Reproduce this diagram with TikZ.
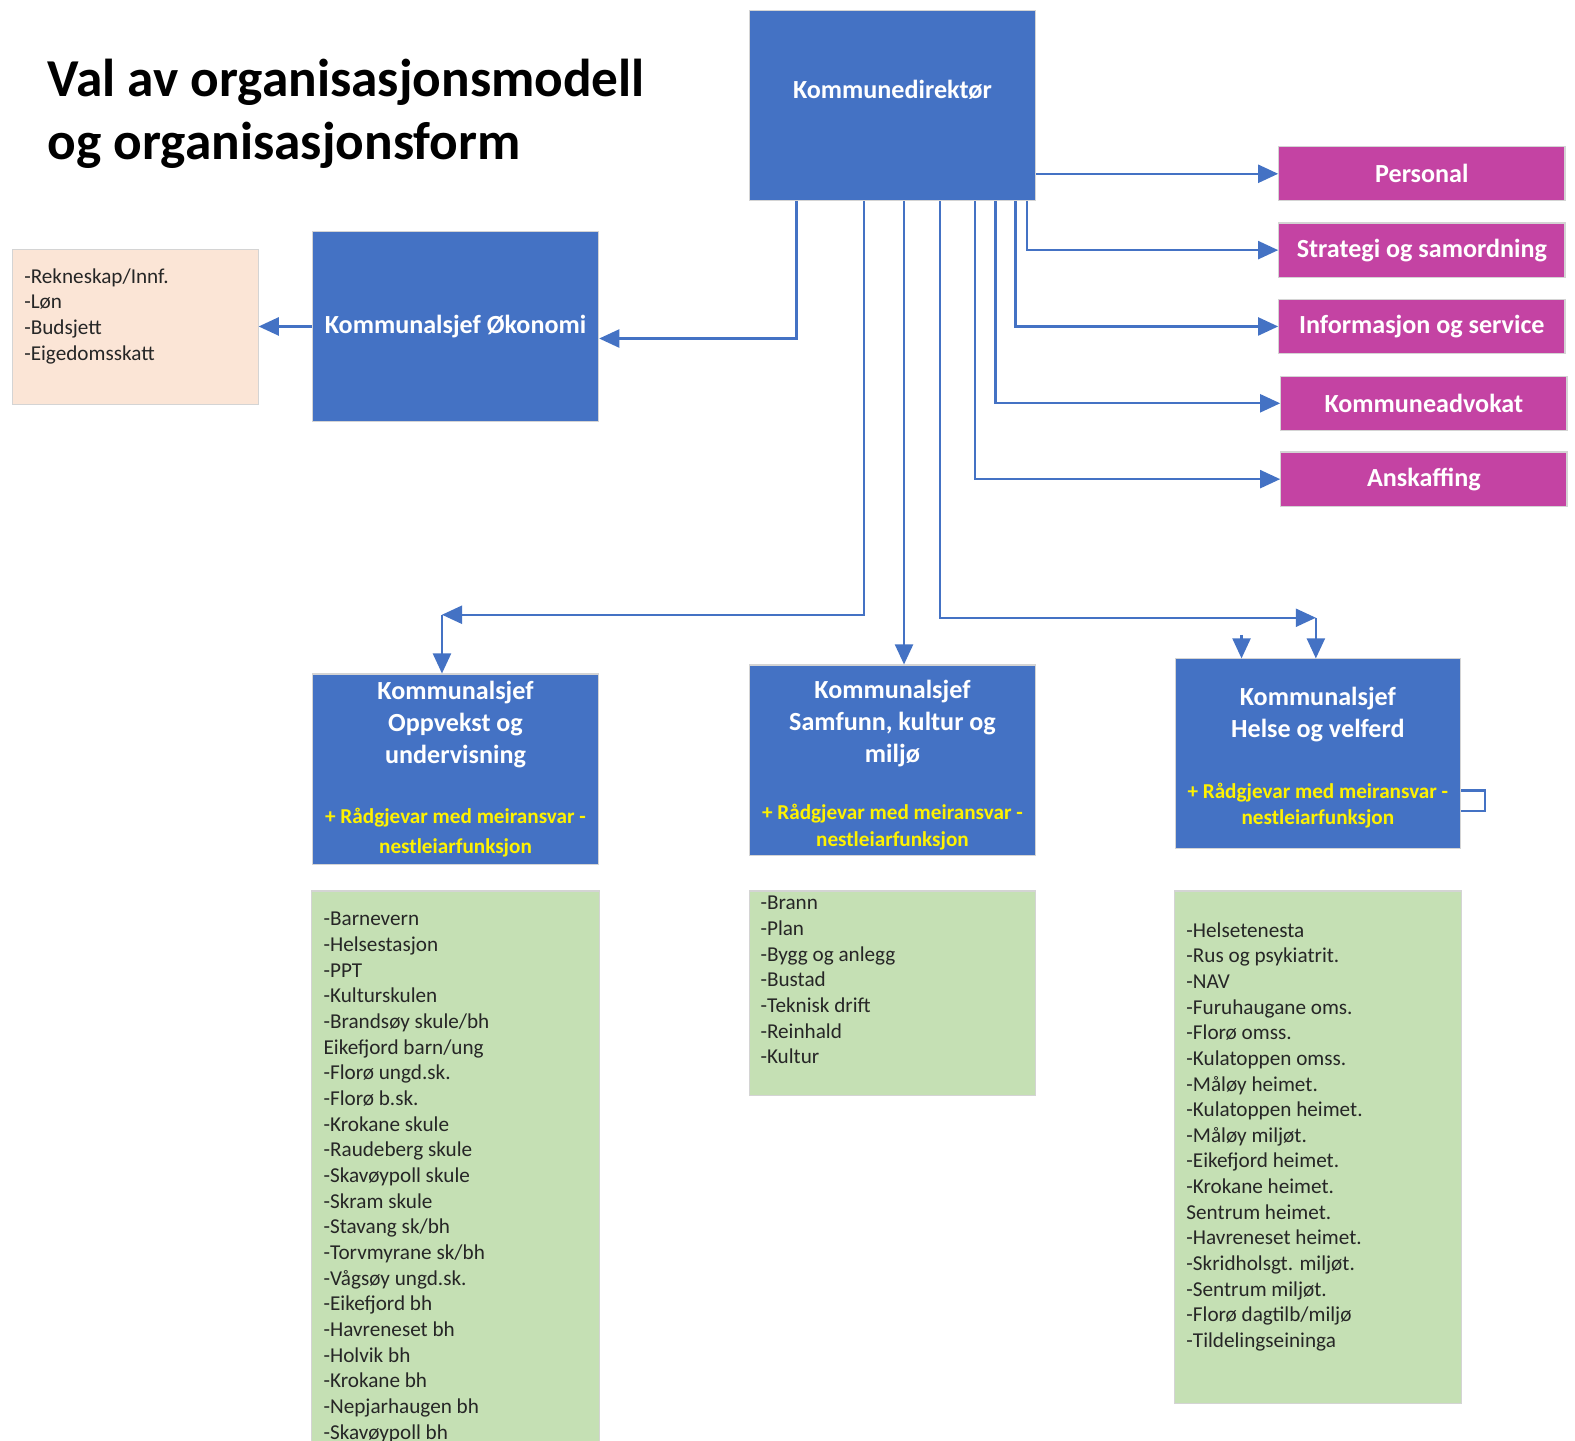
\documentclass[tikz,border=0pt]{standalone}
\usepackage{fontspec}
\setmainfont{Carlito}
\usepackage{tikz}
\usetikzlibrary{arrows.meta}
\usetikzlibrary{positioning}
\usetikzlibrary{calc}
\definecolor{colorSJEF}{RGB}{68,114,196}
\definecolor{colorSTAB}{RGB}{196,67,163}
\definecolor{colorOKO}{RGB}{251,229,214}
\definecolor{colorLISTE}{RGB}{197,224,180}
\definecolor{colorKANT}{RGB}{212,212,212}
\colorlet{colorLINE}{colorSJEF}
\colorlet{colorNEST}{yellow}
\newcommand{\sjefFont}{\fontsize{7.4}{9.07}\selectfont\bfseries}
\newcommand{\stabFont}{\fontsize{7.4}{8.8}\selectfont\bfseries}
\newcommand{\listeFont}{\fontsize{6}{7.27}\selectfont}
\newcommand{\nestFont}{\color{colorNEST}\fontsize{6}{7.4}\selectfont\bfseries}
\newcommand{\titleFont}{\fontsize{15.1}{17.9}\selectfont\bfseries}
\tikzset{
   every path/.style={>={Triangle[length=2mm,width=1.8mm]}},
   orgarrow/.style={->,color=colorLINE,line width=0.6pt},
   orgline/.style={-,color=colorLINE,line width=0.6pt},
   sjef/.style={rectangle,fill=colorSJEF,draw=colorKANT,line width=0.3pt,text=white,
     align=center,font=\sjefFont,minimum width=2.85cm,minimum height=1.9cm,inner sep=0pt},
   stab/.style={rectangle,fill=colorSTAB,draw=colorKANT,line width=0.3pt,text=white,
     font=\stabFont,minimum width=2.85cm,minimum height=0.54cm,inner sep=0pt},
   liste/.style={rectangle,fill=colorLISTE,draw=colorKANT,line width=0.3pt,
     minimum width=2.86cm,inner sep=0pt},
   listetext/.style={anchor=north west,align=left,font=\listeFont,inner sep=0pt,text=black!85},
   titletext/.style={anchor=north west,align=left,font=\titleFont,inner sep=0pt},
}

\begin{document}
\begin{tikzpicture}

  \useasboundingbox (0,0) rectangle (15.68,-14.34);
  \fill[white] (0,0) rectangle (15.68,-14.34);

  \node[titletext] (title) at (0.47,-0.58) {Val av organisasjonsmodell\\og organisasjonsform};

  \node[sjef,label={[font=\sjefFont,text=white,yshift=1.6mm]center:Kommunedirektør}]
    (dir) at (8.885,-1.05) {};

  \node[stab] (pers)  at (14.155,-1.73) {Personal};
  \node[stab] (strat) at (14.155,-2.49) {Strategi og samordning};
  \node[stab] (info)  at (14.155,-3.25) {Informasjon og service};
  \node[stab] (advo)  at (14.175,-4.015) {Kommuneadvokat};
  \node[stab] (ansk)  at (14.175,-4.77) {Anskaffing};

  \node[sjef] (okon) at (4.535,-3.25) {Kommunalsjef Økonomi};
  \node[liste,fill=colorOKO,minimum width=2.45cm,minimum height=1.55cm,
    label={[listetext,xshift=1.2mm,yshift=-1.9mm]north west:{-Rekneskap/Innf.\\-Løn\\-Budsjett\\-Eigedomsskatt}}]
    (okoliste) at (1.345,-3.255) {};

  \node[sjef] (oppv) at (4.535,-7.66)
    {Kommunalsjef\\Oppvekst og\\undervisning\\[7.9pt]\nestFont + Rådgjevar med meiransvar -\\[-0.57pt]\nestFont nestleiarfunksjon};
  \node[sjef] (samf) at (8.885,-7.57)
    {\rule{0pt}{7.6pt}Kommunalsjef\\Samfunn, kultur og\\miljø\\[7.3pt]\nestFont + Rådgjevar med meiransvar -\\[-1.67pt]\nestFont nestleiarfunksjon};
  \node[sjef,minimum width=2.84cm,minimum height=1.89cm] (helse) at (13.12,-7.505)
    {\rule{0pt}{7.3pt}Kommunalsjef\\Helse og velferd\\[8.2pt]\nestFont + Rådgjevar med meiransvar -\\[-1.67pt]\nestFont nestleiarfunksjon};

  \node[liste,minimum width=2.87cm,minimum height=5.53cm,
    label={[listetext,xshift=1.2mm,yshift=-2.1mm]north west:{-Barnevern\\-Helsestasjon\\-PPT\\-Kulturskulen\\-Brandsøy skule/bh\\Eikefjord barn/ung\\-Florø ungd.sk.\\-Florø b.sk.\\-Krokane skule\\-Raudeberg skule\\-Skavøypoll skule\\-Skram skule\\-Stavang sk/bh\\-Torvmyrane sk/bh\\-Vågsøy ungd.sk.\\-Eikefjord bh\\-Havreneset bh\\-Holvik bh\\-Krokane bh\\-Nepjarhaugen bh\\-Skavøypoll bh}}]
    (oppvliste) at (4.535,-11.635) {};
  \node[liste,minimum width=2.85cm,minimum height=2.04cm,
    label={[listetext,xshift=1.1mm,yshift=-0.5mm]north west:{-Brann\\-Plan\\-Bygg og anlegg\\-Bustad\\-Teknisk drift\\-Reinhald\\-Kultur}}]
    (samfliste) at (8.885,-9.89) {};
  \node[liste,minimum width=2.86cm,minimum height=5.10cm,
    label={[listetext,xshift=1.2mm,yshift=-3.1mm]north west:{-Helsetenesta\\-Rus og psykiatrit.\\-NAV\\-Furuhaugane oms.\\-Florø omss.\\-Kulatoppen omss.\\-Måløy heimet.\\-Kulatoppen heimet.\\-Måløy miljøt.\\-Eikefjord heimet.\\-Krokane heimet.\\Sentrum heimet.\\-Havreneset heimet.\\-Skridholsgt. miljøt.\\-Sentrum miljøt.\\-Florø dagtilb/miljø\\-Tildelingseininga}}]
    (helseliste) at (13.12,-11.42) {};

  \coordinate (oppvknee)  at (4.40,-6.12);
  \coordinate (helseknee) at (13.10,-6.15);
  \coordinate (helsestub) at (12.36,-6.32);

  \draw[orgarrow] ([xshift=-9.55mm]dir.south) |- ([yshift=-1.2mm]okon.east);
  \draw[orgarrow] (okon.west) -- (okon.west -| okoliste.east);

  \draw[orgarrow] (dir.east |- pers.west) -- (pers.west);
  \draw[orgarrow] ([xshift=13.35mm]dir.south) |- (strat.west);
  \draw[orgarrow] ([xshift=12.25mm]dir.south) |- (info.west);
  \draw[orgarrow] ([xshift=10.25mm]dir.south) |- (advo.west);
  \draw[orgarrow] ([xshift=8.25mm]dir.south)  |- (ansk.west);

  \draw[orgarrow] ([xshift=-2.85mm]dir.south) |- (oppvknee);
  \draw[orgarrow] (oppvknee) -- (oppvknee |- oppv.north);
  \draw[orgarrow] ([xshift=1.15mm]dir.south) -- ($(samf.north)+(1.15mm,0)$);
  \draw[orgarrow] ([xshift=4.75mm]dir.south) |- (helseknee);
  \draw[orgarrow] (helseknee) -- (helseknee |- helse.north);
  \draw[orgarrow] (helsestub) -- (helsestub |- helse.north);
  \draw[orgline] ([yshift=-3.65mm]helse.east) -- ++(2.4mm,0) -- ++(0,-2mm) -- ++(-2.4mm,0);

\end{tikzpicture}
\end{document}
